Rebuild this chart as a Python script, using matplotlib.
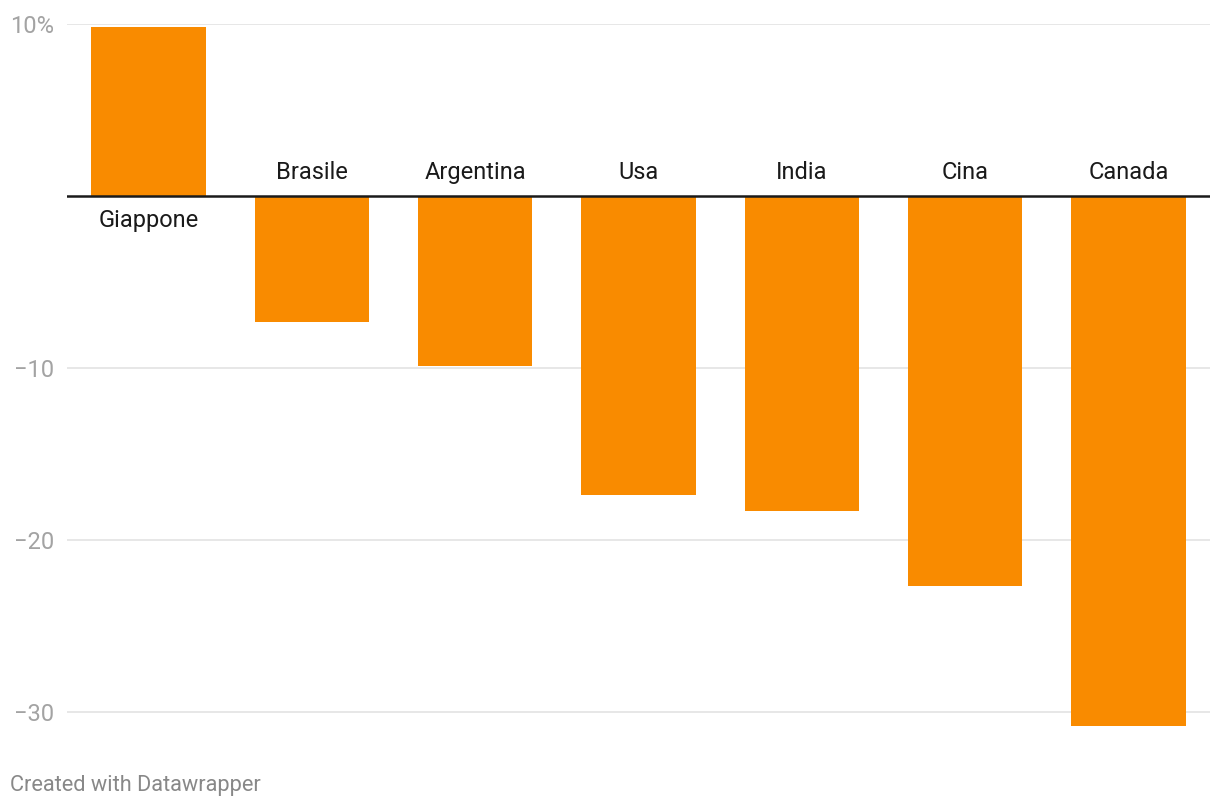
import matplotlib
matplotlib.use("Agg")
import matplotlib.pyplot as plt

categories = ["Giappone", "Brasile", "Argentina", "Usa", "India", "Cina", "Canada"]
values = [9.8, -7.3, -9.9, -17.4, -18.3, -22.7, -30.8]
yticks = [10, 0, -10, -20, -30]
ytick_labels = ["10%", "", "\u221210", "\u221220", "\u221230"]

plt.rcParams['font.family'] = ['Roboto', 'DejaVu Sans']

W, H = 1220, 810
fig = plt.figure(figsize=(W / 100, H / 100), dpi=100)
ax = fig.add_axes([67 / W, 1 - 729.2 / H, (1210 - 67) / W, (729.2 - 24) / H])

x = list(range(len(categories)))
ax.bar(x, values, width=0.70, color="#f98b00", zorder=3)
ax.set_xlim(-0.5, len(categories) - 0.5)
ax.set_ylim(-31, 10)

for yt in yticks:
    if yt != 0:
        ax.axhline(yt, color="#e3e3e3", lw=1.2, zorder=1)
ax.axhline(0, color="#1a1a1a", lw=1.8, zorder=4)

ax.set_yticks(yticks)
ax.set_yticklabels(ytick_labels)
ax.tick_params(axis='y', length=0, pad=9, labelsize=17, labelcolor="#a3a3a3")
ax.set_xticks([])
for s in ax.spines.values():
    s.set_visible(False)

for xi, c, v in zip(x, categories, values):
    if v < 0:
        ax.annotate(c, (xi, 0), xytext=(0, 17), textcoords="offset points",
                    ha="center", va="center", fontsize=17, color="#1a1a1a")
    else:
        ax.annotate(c, (xi, 0), xytext=(0, -18), textcoords="offset points",
                    ha="center", va="center", fontsize=17, color="#1a1a1a")

fig.text(10 / W, 1 - 785 / H, "Created with Datawrapper", fontsize=15.7,
         color="#888888", ha="left", va="center")

fig.savefig("out.png", dpi=100, facecolor="white")
